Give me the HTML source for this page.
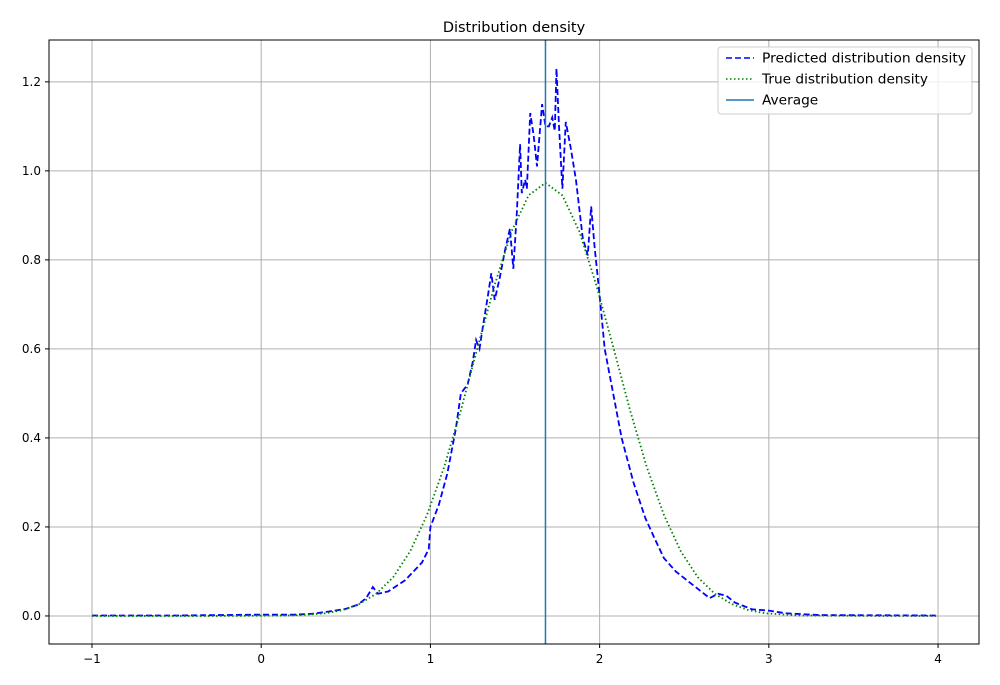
<!DOCTYPE html>
<html><head><meta charset="utf-8"><style>
body{margin:0;background:#fff;}
svg{display:block;font-family:"DejaVu Sans","Liberation Sans",sans-serif;}
</style></head><body>
<svg id="chart" width="1000" height="685"></svg>
<script>
const predX=[-1,-0.5,0,0.2,0.3,0.4,0.5,0.57,0.62,0.66,0.69,0.75,0.85,0.95,0.99,1.0,1.05,1.1,1.15,1.18,1.2,1.22,1.25,1.27,1.29,1.31,1.34,1.36,1.38,1.41,1.44,1.47,1.49,1.51,1.53,1.54,1.56,1.57,1.59,1.61,1.63,1.66,1.68,1.7,1.72,1.735,1.745,1.76,1.78,1.8,1.83,1.86,1.9,1.93,1.95,1.97,2.0,2.03,2.08,2.13,2.2,2.27,2.33,2.38,2.45,2.55,2.65,2.7,2.75,2.8,2.9,3.0,3.1,3.3,4];
const predY=[0.001,0.001,0.003,0.003,0.005,0.01,0.016,0.025,0.04,0.065,0.05,0.055,0.08,0.12,0.15,0.2,0.25,0.32,0.42,0.5,0.51,0.52,0.57,0.62,0.6,0.65,0.72,0.77,0.71,0.76,0.82,0.87,0.78,0.9,1.06,0.95,0.98,0.96,1.13,1.08,1.01,1.15,1.1,1.1,1.12,1.09,1.23,1.1,0.96,1.11,1.05,0.98,0.85,0.81,0.92,0.83,0.72,0.6,0.5,0.4,0.3,0.22,0.17,0.13,0.1,0.07,0.04,0.05,0.045,0.03,0.015,0.012,0.006,0.002,0.001];
const trueX=[-1,-0.3,0.18,0.38,0.48,0.58,0.68,0.78,0.88,0.98,1.08,1.18,1.28,1.38,1.48,1.58,1.68,1.78,1.88,1.98,2.08,2.18,2.28,2.38,2.48,2.58,2.68,2.78,2.88,2.98,3.18,3.68,4];
const trueY=[0,0,0.001,0.006,0.013,0.027,0.05,0.087,0.145,0.227,0.333,0.462,0.605,0.744,0.864,0.945,0.973,0.945,0.864,0.744,0.605,0.462,0.333,0.227,0.145,0.087,0.05,0.027,0.013,0.006,0.001,0,0];
const avgX=1.68;
const xTicks=[-1,0,1,2,3,4];
const yTicks=[0.0,0.2,0.4,0.6,0.8,1.0,1.2];

const L=49,R=979,T=40,B=644;
const xmin=-1.254,xmax=4.242,ymin=-0.063,ymax=1.294;
const sx=v=>L+(v-xmin)/(xmax-xmin)*(R-L);
const sy=v=>B-(v-ymin)/(ymax-ymin)*(B-T);
const svg=document.getElementById('chart');
const NS='http://www.w3.org/2000/svg';
function mk(tag,attrs,parent){const e=document.createElementNS(NS,tag);for(const k in attrs)e.setAttribute(k,attrs[k]);(parent||svg).appendChild(e);return e;}

let t=mk('text',{x:(L+R)/2,y:32,'text-anchor':'middle','font-size':'14.5',fill:'#000'});t.textContent='Distribution density';



xTicks.forEach(v=>{
  const g=mk('line',{x1:sx(v),x2:sx(v),y1:T,y2:B,stroke:'#b0b0b0','stroke-width':1});
  
  
  mk('line',{x1:sx(v),x2:sx(v),y1:B,y2:B+4,stroke:'#000'});
  const lb=mk('text',{x:sx(v),y:B+19,'text-anchor':'middle','font-size':'12',fill:'#000'});
  lb.textContent=v<0?'\u2212'+Math.abs(v):String(v);
  
  
});
yTicks.forEach(v=>{
  const g=mk('line',{x1:L,x2:R,y1:sy(v),y2:sy(v),stroke:'#b0b0b0','stroke-width':1});
  
  
  mk('line',{x1:L-4,x2:L,y1:sy(v),y2:sy(v),stroke:'#000'});
  const lb=mk('text',{x:L-8,y:sy(v)+4,'text-anchor':'end','font-size':'12',fill:'#000'});
  lb.textContent=v.toFixed(1);
  
  
});

const pp=mk('polyline',{points:predX.map((x,i)=>sx(x)+','+sy(predY[i])).join(' '),fill:'none',stroke:'#0000ff','stroke-width':1.8,'stroke-dasharray':'6,3'});


const tp=mk('polyline',{points:trueX.map((x,i)=>sx(x)+','+sy(trueY[i])).join(' '),fill:'none',stroke:'#008000','stroke-width':1.8,'stroke-dasharray':'1.5,2.5'});


const av=mk('line',{x1:sx(avgX),x2:sx(avgX),y1:T,y2:B,stroke:'#1f77b4','stroke-width':1.5});



const fr=mk('rect',{x:L,y:T,width:R-L,height:B-T,fill:'none',stroke:'#000','stroke-width':1});



const lg=mk('g',{});


mk('rect',{x:718,y:47,width:254,height:67,rx:3,fill:'#fff','fill-opacity':0.8,stroke:'#ccc'},lg);
const entries=[['Predicted distribution density','#0000ff','6,3'],['True distribution density','#008000','1.5,2.5'],['Average','#1f77b4','']];
entries.forEach((e,i)=>{
  const y=58+i*21;
  const ln=mk('line',{x1:726,x2:754,y1:y,y2:y,stroke:e[1],'stroke-width':1.6,'stroke-dasharray':e[2]},lg);
  
  
  const tx=mk('text',{x:762,y:y+4.5,'font-size':'13.3',fill:'#000',textLength:204,lengthAdjust:'spacingAndGlyphs'},lg);
  if(i!==0){tx.removeAttribute('textLength');tx.removeAttribute('lengthAdjust');tx.setAttribute('font-size','13.7');}
  tx.textContent=e[0];
  
  
});
</script>
</body></html>
